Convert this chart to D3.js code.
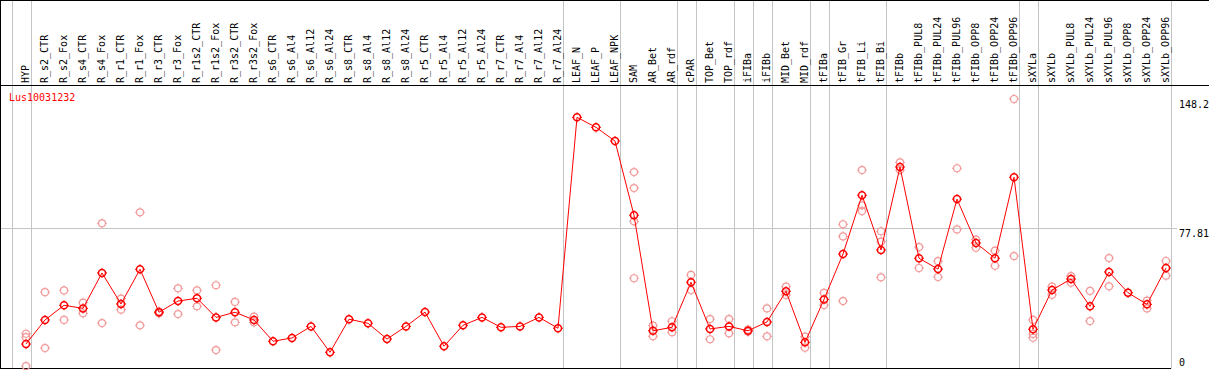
<!DOCTYPE html>
<html>
<head>
<meta charset="utf-8">
<script src="https://cdn.jsdelivr.net/npm/d3@7"></script>
<style>
  body { margin: 0; background: #fff; }
  text { font-family: "DejaVu Sans Mono", monospace; font-size: 10px; }
</style>
</head>
<body>
<div id="chart"></div>
<script>
// 遺伝子名
var geneName = 'Lus10031232';

// 組織・条件のカテゴリ
var categories = [
  'HYP', 'R_s2_CTR', 'R_s2_Fox', 'R_s4_CTR', 'R_s4_Fox', 'R_r1_CTR', 'R_r1_Fox',
  'R_r3_CTR', 'R_r3_Fox', 'R_r1s2_CTR', 'R_r1s2_Fox', 'R_r3s2_CTR', 'R_r3s2_Fox',
  'R_s6_CTR', 'R_s6_Al4', 'R_s6_Al12', 'R_s6_Al24', 'R_s8_CTR', 'R_s8_Al4',
  'R_s8_Al12', 'R_s8_Al24', 'R_r5_CTR', 'R_r5_Al4', 'R_r5_Al12', 'R_r5_Al24',
  'R_r7_CTR', 'R_r7_Al4', 'R_r7_Al12', 'R_r7_Al24', 'LEAF_N', 'LEAF_P', 'LEAF_NPK',
  'SAM', 'AR_Bet', 'AR_rdf', 'cPAR', 'TOP_Bet', 'TOP_rdf', 'iFIBa', 'iFIBb',
  'MID_Bet', 'MID_rdf', 'tFIBa', 'tFIB_Gr', 'tFIB_Li', 'tFIB_Bi', 'tFIBb',
  'tFIBb_PUL8', 'tFIBb_PUL24', 'tFIBb_PUL96', 'tFIBb_OPP8', 'tFIBb_OPP24', 'tFIBb_OPP96',
  'sXYLa', 'sXYLb', 'sXYLb_PUL8', 'sXYLb_PUL24', 'sXYLb_PUL96', 'sXYLb_OPP8',
  'sXYLb_OPP24', 'sXYLb_OPP96'
];

// 平均値（折れ線）
var meanValues = [
  14.8, 27.9, 35.9, 34.2, 53.5, 36.6, 55.5, 32.1, 38.2, 39.7, 29.3, 32.1, 27.9,
  16.3, 18.1, 24.4, 10.3, 28.3, 26.1, 17.5, 24.4, 32.2, 13.6, 25.0, 29.3,
  23.9, 24.4, 29.3, 23.4, 138.2, 132.8, 125.3,
  84.9, 22.0, 23.9, 48.4, 23.0, 24.4, 22.0, 26.8,
  43.5, 15.7, 39.1, 63.8, 95.8, 66.0, 111.2,
  61.5, 55.6, 93.7, 69.8, 61.5, 105.6,
  22.8, 44.2, 50.2, 35.3, 54.0, 42.7, 36.4, 56.2
];

// 反復ごとの値（薄い丸）
var replicateValues = [
  [20.4, 18.5, 2.8], [43.0, 12.6], [44.0, 27.9], [37.3, 31.5], [80.5, 26.2],
  [39.5, 33.5], [86.5, 25.0], [31.5, 32.5], [45.1, 31.1], [44.0, 35.3],
  [46.8, 11.5], [37.7, 26.6], [29.7, 26.6],
  [], [], [], [], [], [], [], [], [], [], [], [], [], [], [], [],
  [], [], [],
  [108.4, 99.7, 81.6, 50.6], [24.8, 19.0], [27.2, 21.2], [52.4, 44.2],
  [28.4, 17.4], [28.4, 20.6], [21.5, 22.6], [34.2, 19.0],
  [46.0, 41.5], [18.8, 12.8], [42.6, 36.0], [80.0, 73.4, 38.2],
  [109.5, 90.3, 87.2], [76.2, 70.5, 51.1], [113.7, 109.5],
  [67.6, 56.2], [59.9, 51.3], [110.5, 77.2], [71.6, 67.2], [65.6, 57.4], [148.2, 62.7],
  [27.9, 20.3, 18.2], [46.0, 41.6], [51.8, 48.2], [43.7, 27.3], [61.6, 46.2],
  [42.7], [38.4, 34.2], [60.0, 52.0]
];

// グループの区切り（この後ろに縦線）
var groupEnds = [
  'HYP', 'R_r7_Al24', 'LEAF_NPK', 'AR_rdf', 'cPAR', 'TOP_rdf', 'iFIBa', 'iFIBb',
  'MID_rdf', 'tFIBa', 'tFIB_Bi', 'tFIBb_OPP96', 'sXYLa', 'sXYLb_OPP96'
];

// 右側の目盛り
var yTicks = [148.2, 77.81, 0];

// 領域のサイズ
var width = 1209;
var height = 370;
var headerBottom = 85.5;
var plotBottom = 368.5;
var plotRight = 1171;

var lineColor = '#ff0000';
var repColor = '#f29a9a';
var gridColor = '#c4c4c4';
var markerR = 3.5;

var x = d3.scalePoint().domain(categories).range([26, 1166]);
var y = d3.scaleLinear().domain([0, 148.2]).range([371.2, 99]);

var svg = d3.select('#chart').append('svg')
  .attr('width', width).attr('height', height);

svg.append('rect')
  .attr('width', width).attr('height', height)
  .attr('fill', '#fff');

// 横のグリッド線（中央の目盛りのみ）
svg.append('line')
  .attr('x1', 0).attr('x2', 1177)
  .attr('y1', Math.round(y(yTicks[1])) + 0.5).attr('y2', Math.round(y(yTicks[1])) + 0.5)
  .attr('stroke', gridColor);

// グループ区切りの縦線
var sepX = [x(categories[0]) - 14.5].concat(groupEnds.map(function(c) {
  return x(c) + 4.5;
}));
svg.selectAll('.sep').data(sepX).enter()
  .append('line')
  .attr('class', 'sep')
  .attr('x1', function(d) { return Math.round(d) + 0.5; })
  .attr('x2', function(d) { return Math.round(d) + 0.5; })
  .attr('y1', 0).attr('y2', plotBottom)
  .attr('stroke', gridColor);

// 枠線
var border = svg.append('g').attr('stroke', '#000').attr('stroke-width', 1);
border.append('line').attr('x1', 0).attr('x2', width).attr('y1', 0.5).attr('y2', 0.5);
border.append('line').attr('x1', 0).attr('x2', width).attr('y1', headerBottom).attr('y2', headerBottom);
border.append('line').attr('x1', 0.5).attr('x2', 0.5).attr('y1', 0).attr('y2', plotBottom + 0.5);
border.append('line').attr('x1', 0).attr('x2', plotRight).attr('y1', plotBottom).attr('y2', plotBottom);

// カテゴリのラベル（縦書き）
svg.append('g').selectAll('text').data(categories).enter()
  .append('text')
  .attr('transform', function(d) {
    return 'translate(' + (x(d) + 2.5) + ',83) rotate(-90)';
  })
  .attr('fill', '#000')
  .text(function(d) { return d; });

// 右側の目盛りラベル
svg.append('g').selectAll('text').data(yTicks).enter()
  .append('text')
  .attr('x', 1179)
  .attr('y', function(d) { return Math.min(y(d), 357) + 8.5; })
  .attr('fill', '#000')
  .text(function(d) { return d; });

// 遺伝子名
svg.append('text')
  .attr('x', 9).attr('y', 101)
  .attr('fill', lineColor)
  .text(geneName);

// マーカー（丸と小さな目盛り）
function marker(sel, color, sw) {
  sel.append('circle')
    .attr('r', markerR)
    .attr('fill', 'none')
    .attr('stroke', color)
    .attr('stroke-width', sw);
  sel.append('path')
    .attr('d', 'M0,-5V-3.5M0,3.5V5M-5,0H-3.5M3.5,0H5')
    .attr('stroke', color)
    .attr('stroke-width', 1);
}

// 反復の点
var reps = [];
categories.forEach(function(c, i) {
  replicateValues[i].forEach(function(v) {
    reps.push({cat: c, value: v});
  });
});
svg.append('g').selectAll('g').data(reps).enter()
  .append('g')
  .attr('transform', function(d) {
    return 'translate(' + x(d.cat) + ',' + y(d.value) + ')';
  })
  .call(marker, repColor, 1.2);

// 平均の折れ線
var meanData = categories.map(function(c, i) {
  return {cat: c, value: meanValues[i]};
});
svg.append('path')
  .datum(meanData)
  .attr('fill', 'none')
  .attr('stroke', lineColor)
  .attr('stroke-width', 1)
  .attr('d', d3.line()
    .x(function(d) { return x(d.cat); })
    .y(function(d) { return y(d.value); }));

svg.append('g').selectAll('g').data(meanData).enter()
  .append('g')
  .attr('transform', function(d) {
    return 'translate(' + x(d.cat) + ',' + y(d.value) + ')';
  })
  .call(marker, lineColor, 1.5);
</script>
</body>
</html>
